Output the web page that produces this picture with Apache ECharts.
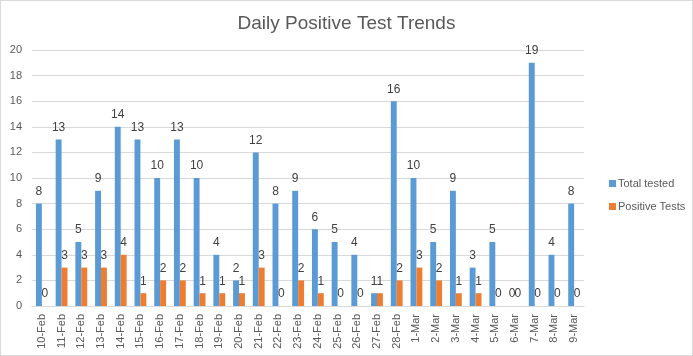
<!DOCTYPE html>
<html><head><meta charset="utf-8">
<script src="https://cdn.jsdelivr.net/npm/echarts@6/dist/echarts.min.js"></script>
<style>html,body{margin:0;padding:0;background:#fff}#c{width:693px;height:356px;box-sizing:border-box;border:1px solid #d9d9d9}</style>
</head><body><div id="c"></div>
<script>
const categories = ['10-Feb','11-Feb','12-Feb','13-Feb','14-Feb','15-Feb','16-Feb','17-Feb','18-Feb','19-Feb','20-Feb','21-Feb','22-Feb','23-Feb','24-Feb','25-Feb','26-Feb','27-Feb','28-Feb','1-Mar','2-Mar','3-Mar','4-Mar','5-Mar','6-Mar','7-Mar','8-Mar','9-Mar'];
const totalTested = [8,13,5,9,14,13,10,13,10,4,2,12,8,9,6,5,4,1,16,10,5,9,3,5,0,19,4,8];
const positiveTests = [0,3,3,3,4,1,2,2,1,1,1,3,0,2,1,0,0,1,2,3,2,1,1,0,0,0,0,0];
const chart = echarts.init(document.getElementById('c'));
const lbl = {show:true, position:'top', color:'#404040', fontSize:12, fontFamily:'Liberation Sans, Arial', distance:6};
chart.setOption({
  animation:false,
  title:{text:'Daily Positive Test Trends', left:'center', top:8, textStyle:{fontFamily:'Liberation Sans, Arial', fontSize:19, fontWeight:'normal', color:'#595959'}},
  legend:{orient:'vertical', left:603, top:172, itemWidth:7, itemHeight:7, itemGap:12, icon:'rect',
    textStyle:{fontFamily:'Liberation Sans, Arial', fontSize:11, color:'#595959', padding:[0,0,0,-3]}},
  grid:{left:31, right:108, top:49, bottom:49},
  xAxis:{type:'category', data:categories,
    axisLine:{lineStyle:{color:'#d9d9d9'}}, axisTick:{show:false},
    axisLabel:{rotate:90, interval:0, color:'#595959', fontSize:11, fontFamily:'Liberation Sans, Arial', margin:8}},
  yAxis:{type:'value', min:0, max:20, interval:2,
    axisLine:{show:false}, axisTick:{show:false},
    splitLine:{lineStyle:{color:'#d9d9d9'}},
    axisLabel:{color:'#595959', fontSize:11, fontFamily:'Liberation Sans, Arial', margin:10}},
  series:[
    {name:'Total tested', type:'bar', data:totalTested, barGap:'0%', barCategoryGap:'40%', itemStyle:{color:'#5B9BD5'}, label:lbl},
    {name:'Positive Tests', type:'bar', data:positiveTests, itemStyle:{color:'#ED7D31'}, label:lbl}
  ]
});
</script></body></html>
